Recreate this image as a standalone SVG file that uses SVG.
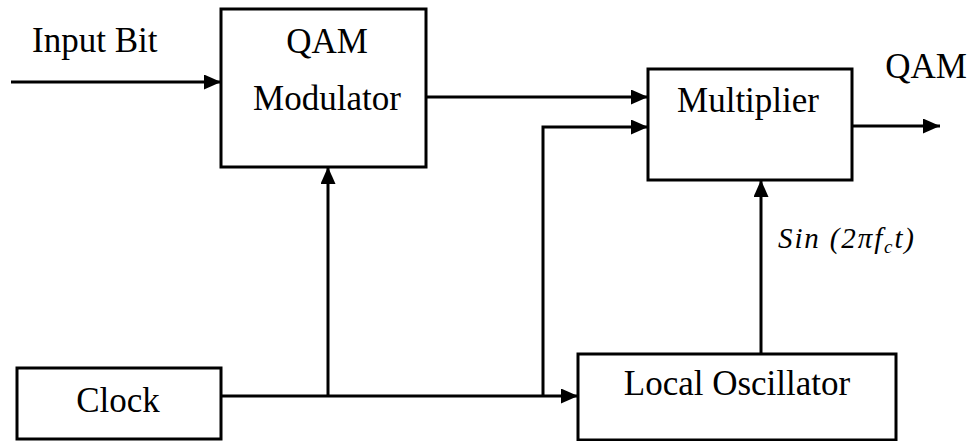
<svg xmlns="http://www.w3.org/2000/svg" width="974" height="441" viewBox="0 0 974 441">
<style>
.box{fill:#fff;stroke:#000;stroke-width:3}
.lbl{font-family:'Liberation Serif','DejaVu Serif',serif;font-size:35px;fill:#000}
.mid{text-anchor:middle}
.math{font-family:'Liberation Serif','DejaVu Serif',serif;font-style:italic;font-size:29px;fill:#000}
.wire{fill:none;stroke:#000;stroke-width:3}
</style>
<defs>
<marker id="arr" markerUnits="userSpaceOnUse" markerWidth="17" markerHeight="15" refX="17" refY="7.5" orient="auto">
<path d="M0,0 L17,7.5 L0,15 z" fill="#000"/>
</marker>
</defs>
<rect width="974" height="441" fill="#fff"/>
<g id="connectors">
<path class="wire" d="M11,82 H221" marker-end="url(#arr)"/>
<path class="wire" d="M426,97 H648" marker-end="url(#arr)"/>
<path class="wire" d="M221,396 H578" marker-end="url(#arr)"/>
<path class="wire" d="M328,396 V167" marker-end="url(#arr)"/>
<path class="wire" d="M543,396 V127 H648" marker-end="url(#arr)"/>
<path class="wire" d="M761,354 V180" marker-end="url(#arr)"/>
<path class="wire" d="M852,126 H940" marker-end="url(#arr)"/>
</g>
<g id="input-label"><text class="lbl" x="32" y="52">Input Bit</text></g>
<g id="qam-modulator">
<rect class="box" x="221" y="9" width="205" height="158"/>
<text class="lbl mid" x="327" y="53">QAM</text>
<text class="lbl mid" x="327" y="110">Modulator</text>
</g>
<g id="multiplier">
<rect class="box" x="648" y="69" width="204" height="111"/>
<text class="lbl mid" x="748" y="112">Multiplier</text>
</g>
<g id="output-label"><text class="lbl mid" x="926" y="78">QAM</text></g>
<g id="clock">
<rect class="box" x="17" y="368" width="204" height="71"/>
<text class="lbl mid" x="118" y="412">Clock</text>
</g>
<g id="local-oscillator">
<rect class="box" x="578" y="354" width="318" height="86"/>
<text class="lbl mid" x="737" y="395">Local Oscillator</text>
</g>
<g id="sin-label"><text class="math" x="778" y="248" textLength="136" lengthAdjust="spacing">Sin (2πf<tspan font-size="19" dy="5">c</tspan><tspan dy="-5">t)</tspan></text></g>
</svg>
